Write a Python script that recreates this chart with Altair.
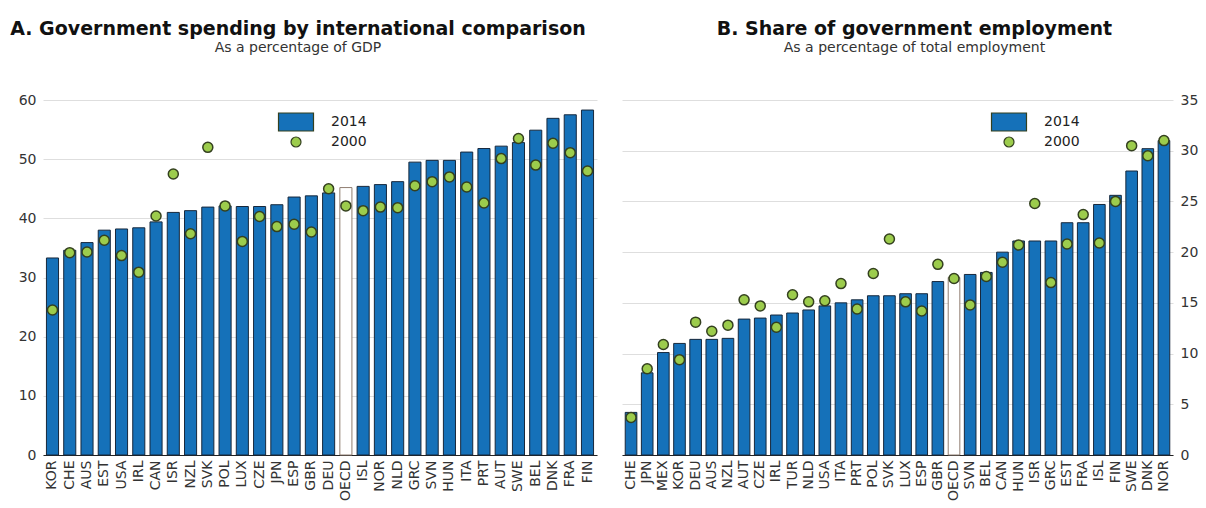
import altair as alt
import pandas as pd

# ---------------- data ----------------
left_countries = ["KOR", "CHE", "AUS", "EST", "USA", "IRL", "CAN", "ISR", "NZL", "SVK",
                  "POL", "LUX", "CZE", "JPN", "ESP", "GBR", "DEU", "OECD", "ISL", "NOR",
                  "NLD", "GRC", "SVN", "HUN", "ITA", "PRT", "AUT", "SWE", "BEL", "DNK",
                  "FRA", "FIN"]
spend_2014 = [33.3, 34.6, 35.9, 38.0, 38.2, 38.4, 39.4, 41.0, 41.3, 41.9,
              42.1, 42.0, 42.0, 42.3, 43.6, 43.8, 44.3, 45.2, 45.4, 45.7,
              46.2, 49.5, 49.8, 49.8, 51.2, 51.8, 52.2, 52.8, 54.9, 56.9,
              57.5, 58.3]
spend_2000 = [24.5, 34.2, 34.3, 36.3, 33.7, 30.9, 40.4, 47.5, 37.4, 52.0,
              42.1, 36.1, 40.3, 38.6, 39.0, 37.7, 45.0, 42.1, 41.3, 41.9,
              41.8, 45.5, 46.2, 47.0, 45.3, 42.6, 50.1, 53.5, 49.0, 52.7,
              51.1, 48.0]

right_countries = ["CHE", "JPN", "MEX", "KOR", "DEU", "AUS", "NZL", "AUT", "CZE", "IRL",
                   "TUR", "NLD", "USA", "ITA", "PRT", "POL", "SVK", "LUX", "ESP", "GBR",
                   "OECD", "SVN", "BEL", "CAN", "HUN", "ISR", "GRC", "EST", "FRA", "ISL",
                   "FIN", "SWE", "DNK", "NOR"]
emp_2014 = [4.2, 8.1, 10.1, 11.0, 11.4, 11.4, 11.5, 13.4, 13.5, 13.8,
            14.0, 14.3, 14.7, 15.0, 15.3, 15.7, 15.7, 15.9, 15.9, 17.1,
            17.5, 17.8, 18.0, 20.0, 21.1, 21.1, 21.1, 22.9, 22.9, 24.7,
            25.6, 28.0, 30.2, 31.0]
emp_2000 = [3.7, 8.5, 10.9, 9.4, 13.1, 12.2, 12.8, 15.3, 14.7, 12.6,
            15.8, 15.1, 15.2, 16.9, 14.4, 17.9, 21.3, 15.1, 14.2, 18.8,
            17.4, 14.8, 17.6, 19.0, 20.7, 24.8, 17.0, 20.8, 23.7, 20.9,
            25.0, 30.5, 29.5, 31.0]

series_names = ["2014", "2000"]
left_ticks = [0, 10, 20, 30, 40, 50, 60]
right_ticks = [0, 5, 10, 15, 20, 25, 30, 35]

left_title = "A. Government spending by international comparison"
left_subtitle = "As a percentage of GDP"
right_title = "B. Share of government employment"
right_subtitle = "As a percentage of total employment"

# ---------------- style ----------------
FONT = "DejaVu Sans"
BAR = "#1571b9"
BAR_EDGE = "#17283c"
OECD_EDGE = "#8f7d70"
DOT = "#9ccc4c"
DOT_EDGE = "#34401f"
GRID = "#dedede"
RECT_PATH = "M-3.5,-1.8H3.5V1.8H-3.5Z"


def panel(countries, v14, v00, ticks, ymax, yorient, min_extent, title, subtitle,
          title_dx, legend_x, legend_y, width, pi, po):
    df_bar = pd.DataFrame({"country": countries, "value": v14, "series": "2014"})
    df_dot = pd.DataFrame({"country": countries, "value": v00, "series": "2000"})

    x = alt.X("country:N", sort=countries,
              scale=alt.Scale(paddingInner=pi, paddingOuter=po),
              axis=alt.Axis(title=None, labelAngle=270, ticks=False, domain=True,
                            domainColor="#222222", domainWidth=1.2, labelPadding=5,
                            labelFontSize=14, labelColor="#333333", grid=False))
    y = alt.Y("value:Q", scale=alt.Scale(domain=[0, ymax], nice=False),
              axis=alt.Axis(title=None, orient=yorient, values=ticks, ticks=False,
                            domain=False, grid=True, gridColor=GRID, labelPadding=7,
                            labelFontSize=14, labelColor="#333333",
                            minExtent=min_extent, maxExtent=min_extent))
    leg = alt.Legend(title=None, orient="none", legendX=legend_x, legendY=legend_y,
                     symbolSize=100, labelOffset=28, labelFontSize=14,
                     labelColor="#222222", rowPadding=0, padding=0,
                     symbolStrokeColor=DOT_EDGE, symbolStrokeWidth=1.2)
    color = alt.Color("series:N", scale=alt.Scale(domain=series_names, range=[BAR, DOT]),
                      legend=leg)
    shape = alt.Shape("series:N",
                      scale=alt.Scale(domain=series_names, range=[RECT_PATH, "circle"]),
                      legend=leg)

    bars = alt.Chart(df_bar).mark_bar(strokeWidth=1).encode(
        x=x, y=y,
        color=alt.condition(alt.datum.country == "OECD", alt.value("white"), color),
        stroke=alt.condition(alt.datum.country == "OECD", alt.value(OECD_EDGE),
                             alt.value(BAR_EDGE)),
    )
    dots = alt.Chart(df_dot).mark_point(filled=True, size=100, stroke=DOT_EDGE,
                                        strokeWidth=1.5, opacity=1).encode(
        x=x, y=y, color=color, shape=shape,
    )
    return alt.layer(bars, dots).properties(
        width=width, height=355,
        title=alt.TitleParams(text=title, subtitle=subtitle, fontSize=19,
                              fontWeight="bold", color="#111111",
                              subtitleFontSize=14, subtitleColor="#333333",
                              subtitlePadding=2, anchor="middle", frame="group",
                              dx=title_dx, offset=38),
    )


left = panel(left_countries, spend_2014, spend_2000, left_ticks, 60, "left", 35,
             left_title, left_subtitle, -22, 246, 15, 554, 0.3, 0.2)
right = panel(right_countries, emp_2014, emp_2000, right_ticks, 35, "right", 24,
              right_title, right_subtitle, 17, 380, 15, 551, 0.28, 0.2)

chart = alt.hconcat(left, right, spacing=25).resolve_scale(
    x="independent", y="independent", color="independent", shape="independent"
).resolve_legend(color="independent", shape="independent").properties(
    padding={"left": 0, "top": 12, "right": 0, "bottom": 0}
).configure(font=FONT, background="white").configure_view(stroke=None)

chart.save("out.html", embed_options={"renderer": "svg", "actions": False})
